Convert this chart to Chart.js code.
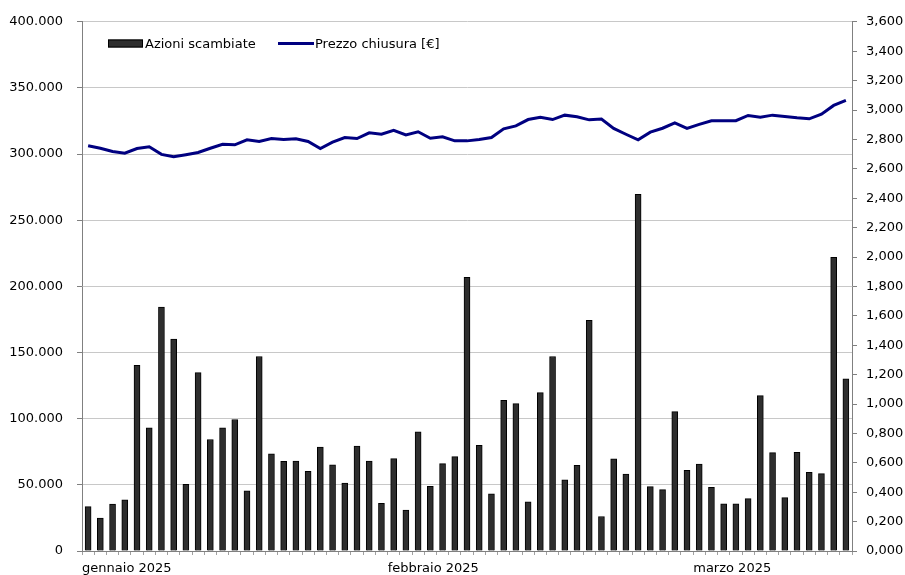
<!DOCTYPE html>
<html>
<head>
<meta charset="utf-8">
<script src="https://cdn.jsdelivr.net/npm/chart.js@4.4.1/dist/chart.umd.min.js"></script>
<style>
  html, body { margin: 0; padding: 0; background: #fff; }
  #wrap { width: 905px; height: 575px; }
</style>
</head>
<body>
<div id="wrap"><canvas id="chart" width="905" height="575"></canvas></div>
<script>
const monthLabels = ["gennaio 2025", "febbraio 2025", "marzo 2025"];
const monthLabelAt = [0, 25, 50];

// Azioni scambiate (left axis)
const volumes = [
    33600, 24800, 35400, 38600, 140300, 93100, 184400, 160100, 50400, 134800,
    84300, 93100, 99400, 45400, 147000, 73500, 67800, 68000, 60200, 78500,
    65200, 51400, 79300, 68000, 36100, 69800, 30900, 90100, 48900, 66000,
    71300, 206800, 79800, 43200, 113900, 111400, 37100, 119700, 147000, 53700,
    64700, 174400, 26100, 69700, 58200, 269500, 48700, 46400, 105400, 61000,
    65700, 48200, 35600, 35600, 39600, 117400, 74300, 40400, 74500, 59500,
    58500, 222000, 130200
];

// Prezzo chiusura [€] (right axis)
const prices = [
    2.757, 2.740, 2.718, 2.706, 2.738, 2.750, 2.698, 2.682, 2.696, 2.711,
    2.740, 2.767, 2.763, 2.797, 2.786, 2.806, 2.799, 2.804, 2.786, 2.738,
    2.781, 2.813, 2.806, 2.845, 2.835, 2.862, 2.831, 2.852, 2.808, 2.818,
    2.790, 2.790, 2.799, 2.813, 2.872, 2.892, 2.935, 2.951, 2.935, 2.965,
    2.954, 2.933, 2.938, 2.875, 2.835, 2.797, 2.849, 2.876, 2.913, 2.875,
    2.902, 2.927, 2.927, 2.927, 2.963, 2.951, 2.965, 2.956, 2.947, 2.940,
    2.972, 3.031, 3.065
];

const categories = volumes.map((v, i) => {
    const k = monthLabelAt.indexOf(i);
    return k >= 0 ? monthLabels[k] : "";
});

const FONT = { family: "'DejaVu Sans', sans-serif", size: 13 };

function thousands(v) {
    return String(Math.round(v)).replace(/\B(?=(\d{3})+(?!\d))/g, ".");
}

// legend drawn inside the plot, top-left
const innerLegend = {
    id: "innerLegend",
    afterDraw(chart) {
        const ctx = chart.ctx;
        const y = 43.5;
        ctx.save();
        ctx.font = "13px 'DejaVu Sans', sans-serif";
        ctx.textBaseline = "middle";

        ctx.fillStyle = "#2e2e2e";
        ctx.fillRect(108, y - 4, 35, 8);
        ctx.strokeStyle = "#000";
        ctx.lineWidth = 1;
        ctx.strokeRect(108.5, y - 3.5, 34, 7);
        ctx.fillStyle = "#000";
        ctx.fillText(chart.data.datasets[1].label, 145, y + 1);

        ctx.strokeStyle = "#000080";
        ctx.lineWidth = 3;
        ctx.beginPath();
        ctx.moveTo(278, y);
        ctx.lineTo(314, y);
        ctx.stroke();
        ctx.fillText(chart.data.datasets[0].label, 315, y + 1);
        ctx.restore();
    }
};

new Chart(document.getElementById("chart"), {
    type: "bar",
    data: {
        labels: categories,
        datasets: [
            {
                type: "line",
                label: "Prezzo chiusura [€]",
                data: prices,
                yAxisID: "y2",
                borderColor: "#000080",
                borderWidth: 3,
                pointRadius: 0,
                tension: 0,
                order: 0
            },
            {
                type: "bar",
                label: "Azioni scambiate",
                data: volumes,
                yAxisID: "y",
                backgroundColor: "#2e2e2e",
                borderColor: "#000000",
                borderWidth: 1,
                barThickness: 6,
                order: 1
            }
        ]
    },
    options: {
        responsive: false,
        animation: false,
        layout: { padding: { top: 20, left: 0, right: 0, bottom: 0 } },
        plugins: {
            legend: { display: false },
            tooltip: { enabled: false }
        },
        scales: {
            x: {
                offset: true,
                grid: {
                    offset: true,
                    drawOnChartArea: false,
                    tickLength: 4,
                    color: "#a0a0a0"
                },
                border: { color: "#808080" },
                ticks: {
                    autoSkip: false,
                    maxRotation: 0,
                    minRotation: 0,
                    align: "start",
                    labelOffset: -6,
                    padding: 6,
                    color: "#000",
                    font: FONT,
                    callback: (v, i) => categories[i]
                },
                afterFit: s => { s.height = 24; }
            },
            y: {
                position: "left",
                min: 0,
                max: 400000,
                grid: {
                    color: "#c8c8c8",
                    tickColor: "#808080",
                    tickLength: 5
                },
                border: { color: "#808080" },
                ticks: {
                    stepSize: 50000,
                    padding: 14,
                    color: "#000",
                    font: FONT,
                    callback: v => thousands(v)
                },
                afterFit: s => { s.width = 82; }
            },
            y2: {
                position: "right",
                min: 0,
                max: 3.6,
                grid: {
                    drawOnChartArea: false,
                    color: "#808080",
                    tickLength: 5
                },
                border: { color: "#808080" },
                ticks: {
                    stepSize: 0.2,
                    padding: 9,
                    color: "#000",
                    font: FONT,
                    callback: v => v.toFixed(3).replace(".", ",")
                },
                afterFit: s => { s.width = 53; }
            }
        }
    },
    plugins: [innerLegend]
});
</script>
</body>
</html>
